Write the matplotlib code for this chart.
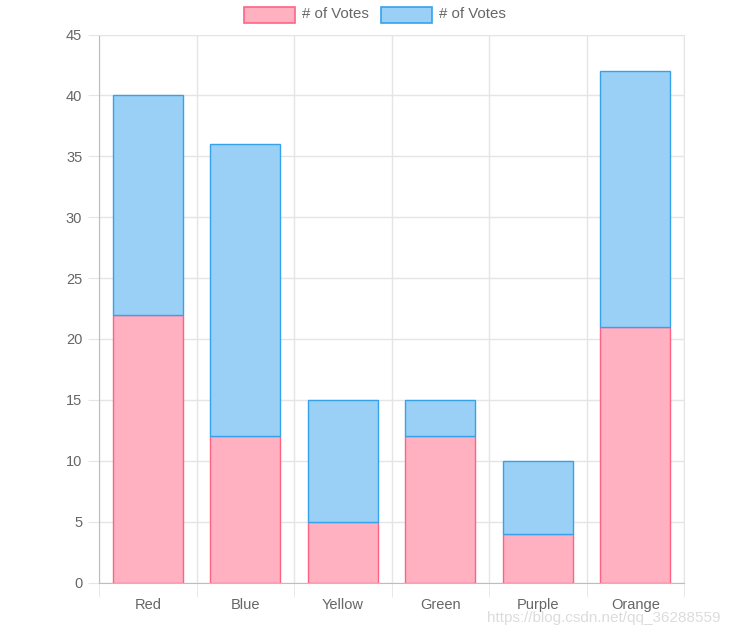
import matplotlib
matplotlib.use('Agg')
import matplotlib.pyplot as plt
from matplotlib.patches import Rectangle
import numpy as np

# data
categories = ['Red', 'Blue', 'Yellow', 'Green', 'Purple', 'Orange']
votes_a = [22, 12, 5, 12, 4, 21]
votes_b = [18, 24, 10, 3, 6, 21]
series_labels = ['# of Votes', '# of Votes']
y_ticks = [0, 5, 10, 15, 20, 25, 30, 35, 40, 45]

plt.rcParams['font.family'] = ['Liberation Sans', 'DejaVu Sans']

fills = ['#FFB1C1', '#9AD0F5']
edges = ['#FF6384', '#36A2EB']
grid_c = '#e5e5e5'
text_c = '#666666'

fig = plt.figure(figsize=(7.31, 6.36), dpi=100)
ax = fig.add_axes([99 / 731, 1 - 582.5 / 636, 585 / 731, 548 / 636])

x = np.arange(len(categories))
w = 0.72
ax.bar(x, votes_a, width=w, color=fills[0], edgecolor=edges[0], linewidth=1.0, zorder=3)
ax.bar(x, votes_b, width=w, bottom=votes_a, color=fills[1], edgecolor=edges[1], linewidth=1.0, zorder=3)

ax.set_xlim(-0.5, len(categories) - 0.5)
ax.set_ylim(0, 45)
ax.set_yticks(y_ticks)
ax.set_xticks(x)
ax.set_xticklabels(categories)
ax.set_xticks(np.arange(len(categories) + 1) - 0.5, minor=True)

ax.tick_params(axis='y', length=8, color=grid_c, labelcolor=text_c, labelsize=10.5, pad=4)
ax.tick_params(axis='x', which='major', length=0, labelcolor=text_c, labelsize=10.5, pad=11)
ax.tick_params(axis='x', which='minor', length=10, color=grid_c)

ax.grid(axis='y', color=grid_c, linewidth=1, zorder=0)
ax.grid(axis='x', which='minor', color=grid_c, linewidth=1, zorder=0)

for side in ['top', 'right']:
    ax.spines[side].set_color(grid_c)
for side in ['left', 'bottom']:
    ax.spines[side].set_color('#bdbdbd')

# legend drawn in figure pixels like the chart.js header
box_x = [244, 381]
text_x = [302, 439]
for i, lab in enumerate(series_labels):
    fig.add_artist(Rectangle((box_x[i] / 731, 1 - 22.5 / 636), 51 / 731, 15 / 636,
                             transform=fig.transFigure, facecolor=fills[i],
                             edgecolor=edges[i], linewidth=1.2))
    fig.text(text_x[i] / 731, 1 - 14.5 / 636, lab, ha='left', va='center',
             fontsize=10.8, color=text_c)

fig.text(721 / 731, 1 - 618 / 636, 'https://blog.csdn.net/qq_36288559',
         ha='right', va='center', fontsize=11, color='#dcdcdc')

fig.savefig('out.png', dpi=100)
